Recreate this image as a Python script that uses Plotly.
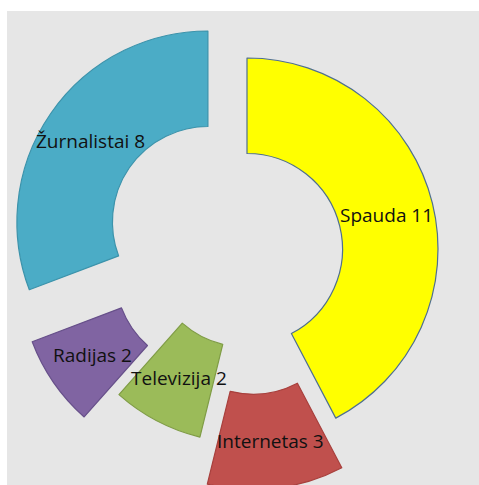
import math
import plotly.graph_objects as go

# ---- data ----
labels = ["Spauda", "Internetas", "Televizija", "Radijas", "Žurnalistai"]
values = [11, 3, 2, 2, 8]

# ---- styling ----
colors = ["#FFFF00", "#C0504D", "#9BBB59", "#8064A2", "#4BACC6"]
edge_colors = ["#4F6F90", "#A8403D", "#7F9C45", "#67508A", "#3C93AB"]
explode_px = [0, 50, 3, 44, 47.5]   # how far each slice is pulled out

W, H = 479, 495          # figure size (window shows top 485 px)
CX, CY = 247, 249        # doughnut centre in px
R = 191                  # outer radius in px
HOLE = 0.5

total = sum(values)
fig = go.Figure()
cum = 0
for i, (lab, v) in enumerate(zip(labels, values)):
    mid = (cum + v / 2) / total * 2 * math.pi  # clockwise from 12 o'clock
    cum += v
    dx, dy = math.sin(mid), -math.cos(mid)
    cx = CX + explode_px[i] * dx
    cy = CY + explode_px[i] * dy
    mc = ["rgba(0,0,0,0)"] * len(values)
    mc[i] = colors[i]
    lc = ["rgba(0,0,0,0)"] * len(values)
    lc[i] = edge_colors[i]
    fig.add_trace(go.Pie(
        labels=labels, values=values, sort=False, direction="clockwise",
        rotation=0, hole=HOLE,
        marker=dict(colors=mc, line=dict(color=lc, width=1.2)),
        textinfo="none", showlegend=False, hoverinfo="label+value",
        domain=dict(x=[(cx - R) / W, (cx + R) / W],
                    y=[1 - (cy + R) / H, 1 - (cy - R) / H]),
    ))
    rm = R * (1 + HOLE) / 2
    tx, ty = cx + rm * dx, cy + rm * dy
    fig.add_annotation(
        x=tx / W, y=1 - ty / H, xref="paper", yref="paper",
        text=f"{lab} {v}", showarrow=False, xanchor="center", yanchor="middle",
        font=dict(family="Open Sans", size=19, color="#111111"),
    )

fig.update_layout(
    width=W, height=H,
    margin=dict(l=0, r=0, t=0, b=0),
    paper_bgcolor="#E6E6E6",
    plot_bgcolor="#E6E6E6",
    shapes=[
        dict(type="rect", xref="paper", yref="paper", x0=0, x1=7 / W, y0=0, y1=1,
             fillcolor="white", line=dict(width=0), layer="above"),
        dict(type="rect", xref="paper", yref="paper", x0=0, x1=1, y0=1 - 11 / H, y1=1,
             fillcolor="white", line=dict(width=0), layer="above"),
    ],
)

fig.write_html(
    "out.html",
    config={"displayModeBar": False},
    post_script="document.body.style.margin='0';document.body.style.overflow='hidden';",
)
